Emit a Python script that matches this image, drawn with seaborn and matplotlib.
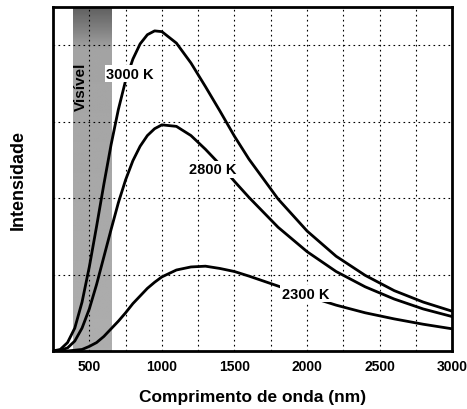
import numpy as np
import pandas as pd
import matplotlib
matplotlib.use("Agg")
import matplotlib.pyplot as plt
import seaborn as sns

# Valores (intensidade em unidades das linhas da grade)
comprimento = [250, 300, 350, 400, 450, 500, 550, 600, 650, 700, 750, 800, 850, 900, 950,
               1000, 1100, 1200, 1300, 1400, 1500, 1600, 1800, 2000, 2200, 2400, 2600, 2800, 3000]
int_3000 = [0.00, 0.02, 0.11, 0.30, 0.64, 1.10, 1.63, 2.18, 2.70, 3.16, 3.54, 3.82, 4.02, 4.14, 4.19,
            4.18, 4.03, 3.77, 3.46, 3.14, 2.81, 2.51, 1.99, 1.57, 1.24, 0.99, 0.79, 0.64, 0.52]
int_2800 = [0.00, 0.01, 0.04, 0.13, 0.30, 0.55, 0.87, 1.23, 1.59, 1.94, 2.24, 2.49, 2.68, 2.82, 2.91,
            2.96, 2.94, 2.82, 2.64, 2.44, 2.22, 2.01, 1.62, 1.30, 1.04, 0.84, 0.68, 0.55, 0.45]
int_2300 = [0.00, 0.00, 0.00, 0.01, 0.02, 0.06, 0.11, 0.19, 0.29, 0.39, 0.50, 0.62, 0.72, 0.82, 0.90,
            0.97, 1.06, 1.10, 1.11, 1.08, 1.04, 0.98, 0.85, 0.72, 0.60, 0.50, 0.42, 0.35, 0.29]

rotulos = ["3000 K", "2800 K", "2300 K"]
pos_rotulos = [(780, 3.63), (1350, 2.38), (1990, 0.75)]
faixa_visivel = (385, 650)
xticks = [500, 1000, 1500, 2000, 2500, 3000]

df = pd.DataFrame({
    "comprimento": comprimento * 3,
    "intensidade": int_3000 + int_2800 + int_2300,
    "temperatura": [rotulos[0]] * len(comprimento) + [rotulos[1]] * len(comprimento)
                   + [rotulos[2]] * len(comprimento),
})

sns.set_style("white")
plt.rcParams["font.family"] = ["Liberation Sans", "DejaVu Sans"]
plt.rcParams["text.color"] = "black"
plt.rcParams["axes.labelcolor"] = "black"
plt.rcParams["xtick.color"] = "black"

fig = plt.figure(figsize=(4.67, 4.10), dpi=100)
ax = fig.add_axes([0.1135, 0.1415, 0.855, 0.8385])

# faixa do visivel, mais escura no topo
lin = np.linspace(0, 1, 200)
tons = np.interp(lin, [0, 0.06, 0.12, 1], [0.38, 0.5, 0.64, 0.68])
ax.imshow(tons[:, None], extent=[faixa_visivel[0], faixa_visivel[1], 0, 4.5],
          cmap="gray", vmin=0, vmax=1, aspect="auto", zorder=0, interpolation="bilinear")

sns.lineplot(data=df, x="comprimento", y="intensidade", hue="temperatura",
             palette=["black"] * 3, linewidth=2.0, legend=False, ax=ax, zorder=3)

for txt, (xx, yy) in zip(rotulos, pos_rotulos):
    ax.text(xx, yy, txt, ha="center", va="center", fontsize=10.5, fontweight="bold",
            zorder=5, bbox=dict(facecolor="white", edgecolor="none", pad=1.0))

ax.text(445, 3.47, "Visível", rotation=90, ha="center", va="center",
        fontsize=11, fontweight="bold", zorder=5)

ax.set_xlim(250, 3000)
ax.set_ylim(0, 4.5)
ax.set_xticks(range(250, 3001, 250))
ax.set_xticklabels([str(v) if v in xticks else "" for v in range(250, 3001, 250)],
                   fontsize=10, fontweight="bold")
ax.set_yticks([1, 2, 3, 4])
ax.set_yticklabels([])
ax.tick_params(length=0, pad=6)
ax.grid(True, color="black", linestyle=(0, (1.5, 3)), linewidth=0.8, zorder=1)
ax.set_axisbelow(False)

for s in ax.spines.values():
    s.set_linewidth(2)
    s.set_color("black")
    s.set_zorder(6)

ax.set_xlabel("Comprimento de onda (nm)", fontsize=12.5, fontweight="bold", labelpad=11)
ax.set_ylabel("Intensidade", fontsize=13, fontweight="bold", labelpad=13)

fig.savefig("out.png", dpi=100)
